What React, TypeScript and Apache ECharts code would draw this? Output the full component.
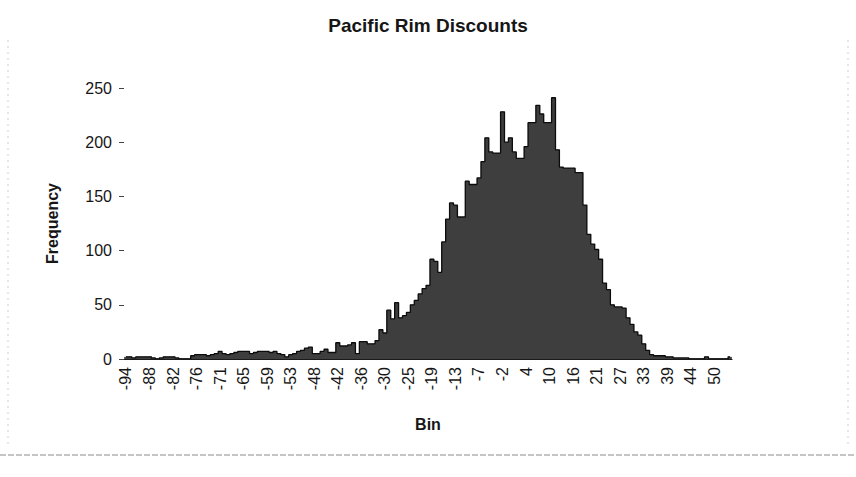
import React, { useEffect, useRef } from "react";
import * as echarts from "echarts";

// Frequencies per bin (bin width ≈ 0.96), left to right
const binValues: number[] = [
  2, 2, 1, 2, 2, 2, 2, 1, 0, 1,
  2, 2, 2, 1, 0, 0, 0, 3, 4, 4,
  4, 3, 4, 5, 7, 5, 4, 5, 6, 7,
  7, 7, 5, 6, 7, 7, 7, 6, 7, 5,
  4, 2, 4, 5, 7, 8, 10, 11, 5, 5,
  7, 9, 6, 6, 15, 12, 12, 13, 15, 5,
  16, 16, 14, 14, 17, 27, 24, 45, 37, 52,
  38, 40, 43, 50, 54, 60, 65, 68, 92, 90,
  80, 108, 129, 144, 142, 131, 131, 164, 161, 161,
  167, 182, 204, 191, 190, 190, 228, 200, 204, 191,
  185, 185, 196, 218, 218, 234, 226, 218, 218, 241,
  193, 177, 176, 176, 176, 172, 172, 142, 115, 106,
  101, 92, 70, 64, 50, 48, 48, 47, 38, 32,
  25, 22, 14, 8, 4, 3, 3, 3, 2, 2,
  1, 1, 1, 1, 0, 0, 0, 0, 2, 0,
  0, 0, 0, 0, 2,
];

// Labels shown on every sixth bin
const tickLabels: string[] = [
  "-94", "-88", "-82", "-76", "-71", "-65", "-59", "-53", "-48", "-42",
  "-36", "-30", "-25", "-19", "-13", "-7", "-2", "4", "10", "16",
  "21", "27", "33", "39", "44", "50",
];
const labelEvery = 6;

const yMin = 0;
const yMax = 250;
const yStep = 50;

const titleText = "Pacific Rim Discounts";
const xName = "Bin";
const yName = "Frequency";

export default function App() {
  const ref = useRef<HTMLDivElement>(null);

  useEffect(() => {
    document.body.style.margin = "0";
    if (!ref.current) return;
    const chart = echarts.init(ref.current, undefined, { renderer: "svg" });
    const categories = binValues.map((_, i) => "b" + i);
    const font = "Liberation Sans, Arial, sans-serif";
    const barColor = "#3e3e3e";
    chart.setOption({
      animation: false,
      backgroundColor: "#ffffff",
      title: {
        text: titleText,
        left: "center",
        top: 11,
        textStyle: {
          fontFamily: font,
          fontSize: 19,
          fontWeight: "bold",
          color: "#161616",
        },
      },
      grid: { left: 124, right: 124, top: 88, bottom: 118 },
      xAxis: {
        type: "category",
        data: categories,
        boundaryGap: true,
        name: xName,
        nameLocation: "middle",
        nameGap: 57,
        nameTextStyle: {
          fontFamily: font,
          fontSize: 16,
          fontWeight: "bold",
          color: "#161616",
        },
        axisLine: { show: true, lineStyle: { color: "#1a1a1a", width: 1.2 } },
        axisTick: { show: false },
        axisLabel: {
          interval: labelEvery - 1,
          rotate: 90,
          margin: 8,
          fontFamily: font,
          fontSize: 16,
          color: "#161616",
          formatter: (_v: string, i: number) =>
            i % labelEvery === 0 ? tickLabels[i / labelEvery] ?? "" : "",
        },
        splitLine: { show: false },
      },
      yAxis: {
        type: "value",
        min: yMin,
        max: yMax,
        interval: yStep,
        name: yName,
        nameLocation: "middle",
        nameRotate: 90,
        nameGap: 64,
        nameTextStyle: {
          fontFamily: font,
          fontSize: 16,
          fontWeight: "bold",
          color: "#161616",
        },
        axisLine: { show: false },
        axisTick: { show: true, length: 5, lineStyle: { color: "#444" } },
        axisLabel: {
          margin: 12,
          fontFamily: font,
          fontSize: 16,
          color: "#161616",
        },
        splitLine: { show: false },
      },
      graphic: [
        {
          type: "line",
          shape: { x1: 8, y1: 40, x2: 8, y2: 445 },
          style: { stroke: "#cfcfcf", lineWidth: 1, lineDash: [2, 4] },
          silent: true,
        },
        {
          type: "line",
          shape: { x1: 848, y1: 40, x2: 848, y2: 445 },
          style: { stroke: "#cfcfcf", lineWidth: 1, lineDash: [2, 4] },
          silent: true,
        },
        {
          type: "line",
          shape: { x1: 0, y1: 455, x2: 856, y2: 455 },
          style: { stroke: "#8a8a8a", lineWidth: 1, lineDash: [6, 2] },
          silent: true,
        },
      ],
      series: [
        {
          type: "bar",
          data: binValues,
          barCategoryGap: "0%",
          barGap: "0%",
          itemStyle: { color: barColor, borderColor: barColor, borderWidth: 1 },
          z: 2,
        },
        {
          type: "line",
          data: binValues,
          step: "middle",
          symbol: "none",
          lineStyle: { color: "#0c0c0c", width: 1.3 },
          areaStyle: { color: barColor, opacity: 1 },
          z: 3,
        },
      ],
    });
    return () => chart.dispose();
  }, []);

  return <div ref={ref} style={{ width: 856, height: 477 }} />;
}
